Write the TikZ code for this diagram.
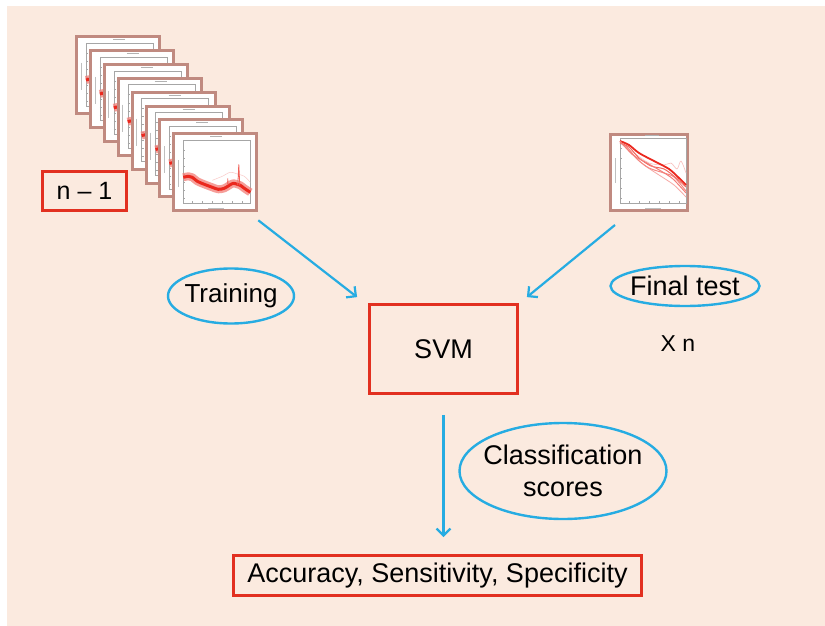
\documentclass[tikz,border=0pt]{standalone}
\usepackage{fontspec}
\setmainfont{Liberation Sans}
\usetikzlibrary{shapes.geometric,arrows.meta}
\definecolor{bgpeach}{RGB}{251,234,223}
\definecolor{boxred}{RGB}{226,48,32}
\definecolor{arrblue}{RGB}{38,172,226}
\definecolor{framebrown}{RGB}{192,138,128}
\definecolor{plotred}{RGB}{235,40,30}
\begin{document}
\begin{tikzpicture}[x=1pt,y=-1pt,
  redbox/.style={draw=boxred,line width=2.8pt,inner sep=0pt},
  blueell/.style={ellipse,draw=arrblue,line width=2.4pt,inner ysep=0pt},
  arr/.style={draw=arrblue,line width=2.2pt,-{Straight Barb[length=7pt,width=14pt]}},
  framebox/.style={draw=framebrown,line width=3pt,fill=white,inner sep=0pt,anchor=north west},
  axisline/.style={draw=black!35,line width=0.4pt},
  big/.style={font=\fontsize{27}{32}\selectfont}]
\useasboundingbox (0,0) rectangle (825,626);
\fill[white] (0,0) rectangle (825,626);
\fill[bgpeach] (7,6) rectangle (825,626);

% stack of training spectra
\foreach \k in {0,...,7}{
  \node[framebox,minimum width=83pt,minimum height=77pt] (f\k) at ({75+13.9*\k},{35+13.9*\k}) {};
  \begin{scope}[shift={(f\k.north west)}]
    \draw[axisline] (11,8) rectangle (78,71);
    \foreach \t in {18,26,34,42,50,58,66}{\draw[axisline] (11,\t) -- (13,\t);}
    \foreach \t in {20,30,40,50,60,70}{\draw[axisline] (\t,71) -- (\t,69);}
    \draw[black!30,line width=1pt] (38,4.5) -- (50,4.5);
    \draw[black!25,line width=0.8pt] (6,28) -- (6,55);
    \draw[black!25,line width=0.8pt] (36,76) -- (52,76);
    \draw[plotred!25,line width=0.5pt] plot[smooth] coordinates {(40,48) (50,44) (58,40) (66,42) (72,44) (78,50)};
    \draw[plotred!60,line width=8pt,line join=round,opacity=0.75] plot[smooth] coordinates {(11,45) (16,44) (20,45) (25,49) (32,52) (40,55) (46,57) (52,56) (57,53) (61,51) (65,52) (68,53) (72,56) (78,60)};
    \draw[plotred,line width=3pt,line join=round] plot[smooth] coordinates {(11,45) (16,44) (20,45) (25,49) (32,52) (40,55) (46,57) (52,56) (57,53) (61,51) (65,52) (68,53) (72,56) (78,60)};
    \draw[plotred!75,line width=0.8pt] (65.5,53) -- (66.5,32) -- (67.5,53);
    \draw[plotred!70,line width=0.6pt] (55,52) -- (55.5,46) -- (56,52);
  \end{scope}
}

% final test spectrum
\node[framebox,minimum width=77pt,minimum height=76pt] (test) at (609,133) {};
\begin{scope}[shift={(test.north west)}]
  \draw[axisline] (11,5) rectangle (77,70);
  \foreach \t in {15,25,35,45,55,65}{\draw[axisline] (11,\t) -- (13,\t);}
  \foreach \t in {20,30,40,50,60,70}{\draw[axisline] (\t,70) -- (\t,68);}
  \draw[black!30,line width=1pt] (36,2.5) -- (50,2.5);
  \draw[black!25,line width=0.8pt] (6,25) -- (6,50);
  \draw[black!25,line width=0.8pt] (36,75) -- (52,75);
  \draw[plotred!30,line width=0.6pt] plot[smooth] coordinates {(11,10) (25,20) (40,30) (55,32) (62,30) (68,36) (72,28) (77,40)};
  \draw[plotred!40,line width=0.8pt] plot[smooth] coordinates {(11,9) (22,20) (35,32) (50,42) (65,52) (77,64)};
  \draw[plotred!55,line width=1pt] plot[smooth] coordinates {(11,9) (18,14) (28,26) (40,35) (55,40) (65,44) (77,58)};
  \draw[plotred!70,line width=1pt] plot[smooth] coordinates {(11,10) (20,14) (30,25) (42,33) (55,36) (66,44) (77,54)};
  \draw[plotred,line width=1.8pt] plot[smooth] coordinates {(11,8) (20,12) (30,20) (45,28) (60,36) (70,45) (77,52)};
  \draw[plotred!60,line width=1pt] plot[smooth] coordinates {(11,8) (24,22) (38,30) (52,38) (64,46) (77,60)};
\end{scope}

% labels and boxes
\node[redbox,minimum width=84pt,minimum height=39pt,font=\fontsize{25}{30}\selectfont] (nm1) at (84.5,191) {n -- 1};
\node[redbox,minimum width=148pt,minimum height=89pt,big] (svm) at (443.5,349) {SVM};
\node[redbox,minimum width=408pt,minimum height=40pt,big] (acc) at (437.5,575.5) {Accuracy, Sensitivity, Specificity};

\node[blueell,inner xsep=-3pt,minimum width=126pt,minimum height=55pt,font=\fontsize{26}{31}\selectfont] (train) at (231,296) {Training};
\node[blueell,inner xsep=-3pt,minimum width=149pt,minimum height=40pt,big] (final) at (685,286) {Final test};
\node[blueell,inner xsep=-7pt,minimum width=207pt,minimum height=96pt,big,align=center] (cls) at (563,471) {Classification\\scores};
\node[font=\fontsize{23}{28}\selectfont] (xn) at (678,343.5) {X n};

% connectors
\draw[arr] ([shift={(0,8)}]f7.south east) -- ([shift={(-11,-6)}]svm.north west);
\draw[arr] ([shift={(6,13)}]test.south west) -- ([shift={(8,-6)}]svm.north east);
\draw[arr] ([yshift=-20pt]svm.south) -- ([yshift=17pt]svm.south |- acc.north);
\end{tikzpicture}
\end{document}
